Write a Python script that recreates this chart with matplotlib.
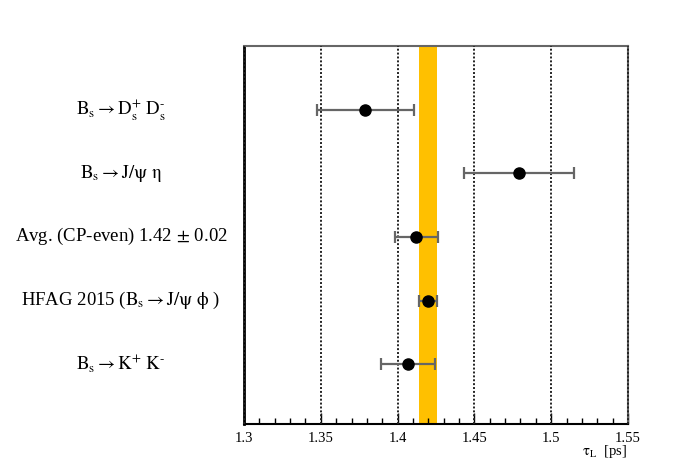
import matplotlib.pyplot as plt
from matplotlib.ticker import MultipleLocator
from matplotlib.transforms import blended_transform_factory

plt.rcParams["mathtext.fontset"] = "stix"
plt.rcParams["font.family"] = ["Liberation Serif", "DejaVu Serif"]

# measurements (tau_L in ps), top to bottom
labels = [
    r"$\mathrm{B_s \rightarrow D_s^{+}\ D_s^{\text{-}}}$",
    r"$\mathrm{B_s \rightarrow J/\psi\ \eta}$",
    r"Avg. (CP-even) 1.42$\,\pm\,$0.02",
    r"HFAG 2015 ($\mathrm{B_s \rightarrow J/\psi\ \phi}$ )",
    r"$\mathrm{B_s \rightarrow K^{+}\ K^{\text{-}}}$",
]
tau = [1.379, 1.479, 1.412, 1.4196, 1.4068]
tau_err = [0.0314, 0.0358, 0.014, 0.0059, 0.0176]
ypos = [5, 4, 3, 2, 1]

# HFAG band
band_center = 1.4196
band_half = 0.0058

xticks = [1.3, 1.35, 1.4, 1.45, 1.5, 1.55]
xticklabels = ["1.3", "1.35", "1.4", "1.45", "1.5", "1.55"]

fig = plt.figure(figsize=(6.98, 4.75), dpi=100)
ax = fig.add_axes([244 / 698, 51 / 475, 384 / 698, 378 / 475])

ax.axvspan(band_center - band_half, band_center + band_half, color="#FFC000", zorder=1, lw=0)

for x in xticks:
    ax.axvline(x, color="#222222", ls=(0, (1, 1)), lw=1.4, zorder=4, clip_on=False)

ax.errorbar(tau, ypos, xerr=tau_err, fmt="o", color="black", ms=8,
            ecolor="#666666", elinewidth=1.6, capsize=4, capthick=1.6, zorder=5)

ax.set_xlim(1.3, 1.55)
ax.set_ylim(0.06, 6.0)
ax.set_xticks(xticks)
ax.set_xticklabels(xticklabels, fontsize=10.5)
ax.xaxis.set_minor_locator(MultipleLocator(0.01))
ax.tick_params(axis="x", which="major", direction="in", length=8, width=1, pad=6)
ax.tick_params(axis="x", which="minor", direction="in", length=4, width=1)
ax.set_yticks([])

for s in ["right", "top"]:
    ax.spines[s].set_color("#666666")
    ax.spines[s].set_linewidth(1.5)
ax.spines["left"].set_color("black")
ax.spines["left"].set_linewidth(2)
ax.spines["bottom"].set_color("black")
ax.spines["bottom"].set_linewidth(1.5)

trans = blended_transform_factory(ax.transAxes, ax.transData)
for lab, y in zip(labels, ypos):
    ax.text(-0.32, y, lab, transform=trans, ha="center", va="center", fontsize=13.5)

fig.text(627 / 698, (475 - 452) / 475, r"$\mathrm{\tau_L}$  [ps]", ha="right", va="center", fontsize=10.5)

fig.savefig("out.png", dpi=100)
